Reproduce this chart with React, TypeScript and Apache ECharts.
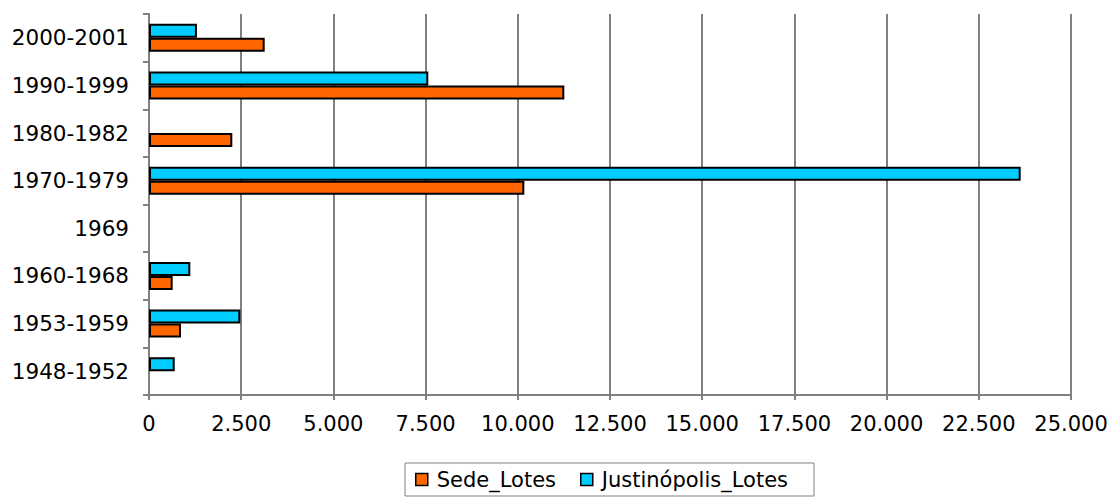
import React, { useEffect, useRef } from "react";
import * as echarts from "echarts";

const categories = ["1948-1952", "1953-1959", "1960-1968", "1969", "1970-1979", "1980-1982", "1990-1999", "2000-2001"];
const sedeLotes = [0, 868, 642, 0, 10177, 2259, 11261, 3137];
const justinopolisLotes = [697, 2476, 1120, 0, 23636, 0, 7573, 1300];
const xTicks = [0, 2500, 5000, 7500, 10000, 12500, 15000, 17500, 20000, 22500, 25000];

const fmt = (v: number) => String(v).replace(/\B(?=(\d{3})+(?!\d))/g, ".");
const nz = (arr: number[]) => arr.map((v) => (v === 0 ? "-" : v));

export default function App() {
  const ref = useRef<HTMLDivElement>(null);
  useEffect(() => {
    const chart = echarts.init(ref.current!, null, { renderer: "svg" });
    const font = "DejaVu Sans, Verdana, sans-serif";
    chart.setOption({
      animation: false,
      textStyle: { fontFamily: font },
      grid: { left: 149, right: 40, top: 14, bottom: 102, containLabel: false },
      legend: {
        top: 463,
        left: 405,
        itemWidth: 12,
        itemHeight: 12,
        itemGap: 24,
        padding: [6, 26, 6, 10],
        borderColor: "#808080",
        borderWidth: 1,
        icon: "rect",
        itemStyle: { borderColor: "#000", borderWidth: 1.5 },
        textStyle: { fontSize: 21, color: "#000", fontFamily: font, padding: [0, 0, 0, 4] },
        data: ["Sede_Lotes", "Justinópolis_Lotes"],
      },
      xAxis: {
        type: "value",
        min: xTicks[0],
        max: xTicks[xTicks.length - 1],
        interval: 2500,
        axisLine: { show: true, lineStyle: { color: "#808080", width: 2 } },
        axisTick: { show: true, length: 5, lineStyle: { color: "#808080", width: 2 } },
        splitLine: { show: true, lineStyle: { color: "#808080", width: 2 } },
        axisLabel: { fontSize: 21, color: "#000", margin: 18, formatter: (v: number) => fmt(v) },
      },
      yAxis: {
        type: "category",
        data: categories,
        axisLine: { show: true, lineStyle: { color: "#808080", width: 2 } },
        axisTick: { show: true, length: 6, lineStyle: { color: "#808080", width: 2 } },
        axisLabel: { fontSize: 21.5, color: "#000", margin: 20 },
        splitLine: { show: false },
      },
      series: [
        {
          name: "Justinópolis_Lotes",
          type: "bar",
          data: nz(justinopolisLotes),
          barWidth: 14,
          barGap: "0%",
          itemStyle: { color: "#00ccff", borderColor: "#000", borderWidth: 2 },
        },
        {
          name: "Sede_Lotes",
          type: "bar",
          data: nz(sedeLotes),
          barWidth: 14,
          barGap: "0%",
          itemStyle: { color: "#ff6600", borderColor: "#000", borderWidth: 2 },
        },
      ],
    });
    return () => chart.dispose();
  }, []);
  return <div ref={ref} style={{ width: 1111, height: 497, position: "absolute", left: 0, top: 0 }} />;
}
